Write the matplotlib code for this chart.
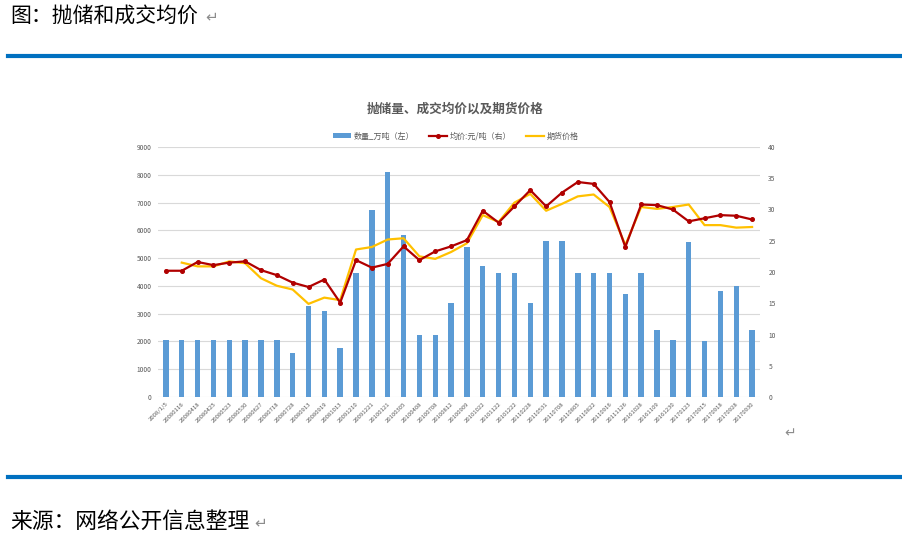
import matplotlib
matplotlib.use("Agg")
import matplotlib.pyplot as plt
import numpy as np
from matplotlib.lines import Line2D
from matplotlib.patches import Patch

plt.rcParams["font.family"] = ["Noto Sans CJK SC", "DejaVu Sans"]

# Data
dates = [
    "2008/1/5", "20080116", "20080418", "20080425", "20080523", "20080530",
    "20080627", "20080718", "20080728", "20080913", "20080919", "20081013",
    "20091210", "20091221", "20100121", "20100305", "20100408", "20100708",
    "20100812", "20100909", "20101022", "20101122", "20101222", "20110228",
    "20110531", "20110708", "20110805", "20110822", "20110916", "20111126",
    "20161028", "20161109", "20161230", "20170123", "20170915", "20170918",
    "20170928", "20170930",
]
volume = [
    2060, 2060, 2060, 2060, 2060, 2060, 2060, 2060, 1580, 3280, 3110, 1770,
    4480, 6740, 8100, 5830, 2230, 2230, 3370, 5390, 4720, 4480, 4480, 3370,
    5620, 5620, 4480, 4480, 4480, 3700, 4480, 2410, 2070, 5590, 2020, 3810,
    4010, 2410,
]
avg_price = [
    20.2, 20.2, 21.6, 21.1, 21.5, 21.7, 20.3, 19.5, 18.3, 17.6, 18.8, 15.1,
    21.9, 20.7, 21.3, 24.1, 21.9, 23.3, 24.1, 25.1, 29.8, 27.9, 30.5, 33.1,
    30.5, 32.7, 34.4, 34.1, 31.2, 24.0, 30.8, 30.7, 30.0, 28.1, 28.6, 29.1,
    29.0, 28.4,
]
futures_price = [
    np.nan, 21.5, 20.9, 20.9, 21.7, 21.4, 19.0, 17.8, 17.2, 14.9, 15.9, 15.5,
    23.6, 24.0, 25.2, 25.4, 22.5, 22.1, 23.2, 24.6, 29.1, 28.0, 31.1, 32.5,
    29.8, 30.9, 32.1, 32.4, 30.4, 24.3, 30.4, 30.1, 30.4, 30.8, 27.5, 27.5,
    27.1, 27.2,
]

W, H = 902, 548
BLUE = "#5B9BD5"
RED = "#B00000"
GOLD = "#FFC000"
GREY = "#595959"

fig = plt.figure(figsize=(W / 100, H / 100), dpi=100)

# Word page decorations
fig.text(10 / W, 1 - 16 / H, "图：抛储和成交均价", fontsize=15, color="black",
         va="center", ha="left")
fig.text(205 / W, 1 - 17 / H, "↵", fontsize=11, color="#8c8c8c",
         va="center", ha="left")
fig.text(10 / W, 1 - 522 / H, "来源：网络公开信息整理", fontsize=15.7,
         color="black", va="center", ha="left")
fig.text(254 / W, 1 - 523 / H, "↵", fontsize=11, color="#8c8c8c",
         va="center", ha="left")
fig.text(784 / W, 1 - 433 / H, "↵", fontsize=10, color="#8c8c8c",
         va="center", ha="left")
for y in (56, 477):
    fig.add_artist(Line2D([8 / W, 900 / W], [1 - y / H, 1 - y / H],
                          color="#0070C0", linewidth=3))

# Chart
ax = fig.add_axes([158 / W, 1 - 397 / H, (760 - 158) / W, (397 - 147) / H])
x = np.arange(len(dates))

ax.bar(x, volume, width=0.34, color=BLUE, zorder=2)
ax.set_xlim(-0.5, len(dates) - 0.5)
ax.set_ylim(0, 9000)
ax.set_yticks(np.arange(0, 9001, 1000))
ax.yaxis.grid(True, color="#D9D9D9", linewidth=0.8, zorder=0)
ax.set_axisbelow(True)
ax.set_xticks(x)
ax.set_xticklabels(dates, rotation=45, ha="right", rotation_mode="anchor",
                   fontsize=4.3, color=GREY)
ax.tick_params(axis="y", length=0, labelsize=4.8, labelcolor=GREY, pad=4.5)
ax.tick_params(axis="x", length=0, pad=3)

ax2 = ax.twinx()
ax2.plot(x, avg_price, color=RED, linewidth=1.6, marker="o", markersize=2.6,
         zorder=3)
ax2.plot(x, futures_price, color=GOLD, linewidth=1.6, zorder=2)
ax2.set_ylim(0, 40)
ax2.set_yticks(np.arange(0, 41, 5))
ax2.tick_params(axis="y", length=0, labelsize=4.8, labelcolor=GREY, pad=6)

for a in (ax, ax2):
    for s in a.spines.values():
        s.set_visible(False)

fig.text(455 / W, 1 - 109 / H, "抛储量、成交均价以及期货价格", fontsize=9.1,
         fontweight="bold", color=GREY, ha="center", va="center")

handles = [
    Patch(facecolor=BLUE, edgecolor="none"),
    Line2D([], [], color=RED, linewidth=1.6, marker="o", markersize=2.6),
    Line2D([], [], color=GOLD, linewidth=1.6),
]
labels = ["数量_万吨（左）", "均价:元/吨（右）", "期货价格"]
leg = fig.legend(handles, labels, loc="center", ncol=3,
                 bbox_to_anchor=(456 / W, 1 - 136 / H), fontsize=5.8,
                 frameon=False, handlelength=2.2, handleheight=0.5,
                 columnspacing=1.9, handletextpad=0.3)
for t in leg.get_texts():
    t.set_color(GREY)

fig.savefig("out.png", dpi=100)
